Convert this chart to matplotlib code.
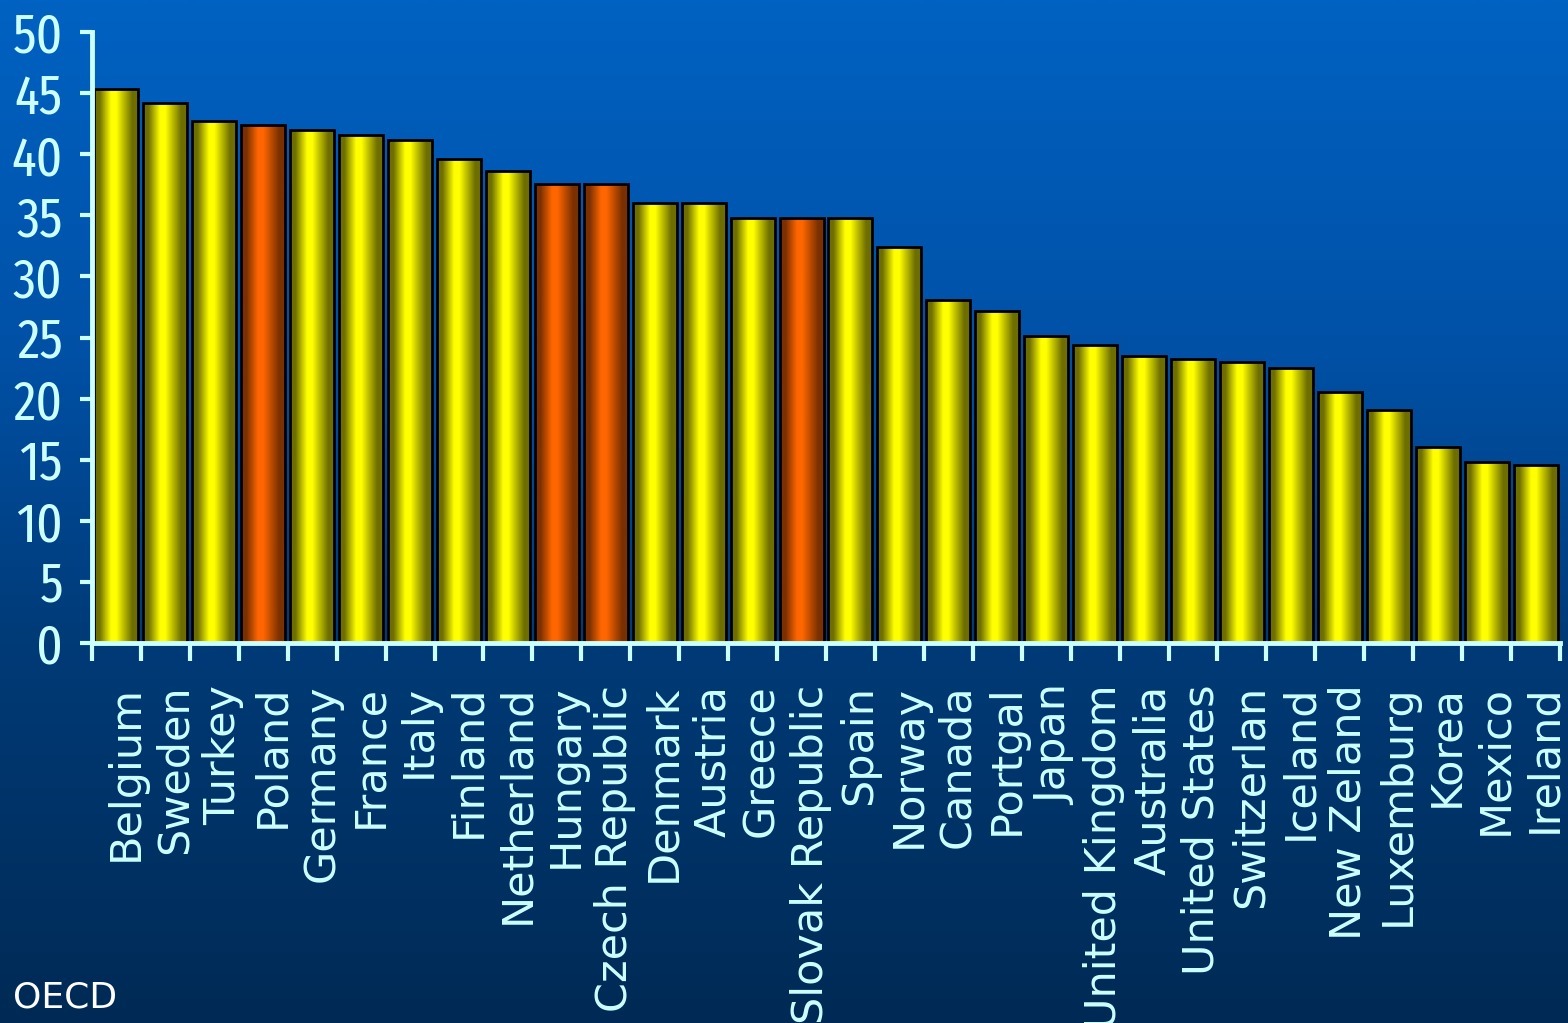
import numpy as np
import matplotlib
matplotlib.use("Agg")
import matplotlib.pyplot as plt
from matplotlib.colors import LinearSegmentedColormap
from matplotlib.transforms import ScaledTranslation

countries = ["Belgium", "Sweden", "Turkey", "Poland", "Germany", "France", "Italy",
             "Finland", "Netherland", "Hungary", "Czech Republic", "Denmark", "Austria",
             "Greece", "Slovak Republic", "Spain", "Norway", "Canada", "Portgal", "Japan",
             "United Kingdom", "Australia", "United States", "Switzerlan", "Iceland",
             "New Zeland", "Luxemburg", "Korea", "Mexico", "Ireland"]
values = [45.3, 44.2, 42.7, 42.4, 42.0, 41.6, 41.2, 39.6, 38.6, 37.6, 37.6, 36.0, 36.0,
          34.8, 34.8, 34.8, 32.4, 28.1, 27.2, 25.1, 24.4, 23.5, 23.2, 23.0, 22.5,
          20.5, 19.1, 16.0, 14.8, 14.6]
highlight = ["Poland", "Hungary", "Czech Republic", "Slovak Republic"]
yticks = [0, 5, 10, 15, 20, 25, 30, 35, 40, 45, 50]

W, H = 1568, 1023
fig = plt.figure(figsize=(W / 100, H / 100), dpi=100)

# background gradient
bg = fig.add_axes([0, 0, 1, 1], zorder=-10)
bg_cmap = LinearSegmentedColormap.from_list(
    "bg", [(0.0, "#0062c2"), (0.35, "#0050a5"), (0.62, "#003b78"), (1.0, "#002a55")])
grad = np.linspace(0, 1, 512).reshape(-1, 1)
bg.imshow(grad, cmap=bg_cmap, aspect="auto", extent=[0, 1, 0, 1], origin="upper")
bg.set_axis_off()

ax = fig.add_axes([92 / W, (H - 643) / H, (1560 - 92) / W, (643 - 32) / H])
ax.set_facecolor("none")

x = np.arange(len(countries))
bars = ax.bar(x, values, width=0.9, facecolor="none", edgecolor="black",
              linewidth=2.0, zorder=3)


def bar_cmap(base, dark):
    return LinearSegmentedColormap.from_list(
        "b", [(0.0, dark), (0.12, dark), (0.38, base), (0.5, base), (0.85, dark), (1.0, dark)])


ycm = bar_cmap("#ffff00", "#6e6e00")
ocm = bar_cmap("#ff6600", "#7a3000")
hgrad = np.linspace(0, 1, 256).reshape(1, -1)
for name, b in zip(countries, bars):
    cm = ocm if name in highlight else ycm
    bx, bw, bh = b.get_x(), b.get_width(), b.get_height()
    im = ax.imshow(hgrad, cmap=cm, aspect="auto", extent=[bx, bx + bw, 0, bh],
                   origin="lower", zorder=2)
    im.set_clip_path(b)

ax.set_xlim(-0.5, len(countries) - 0.5)
ax.set_ylim(0, 50)
ax.set_aspect("auto")

axis_col = "#ccffff"
for s in ["top", "right"]:
    ax.spines[s].set_visible(False)
for s in ["left", "bottom"]:
    ax.spines[s].set_color(axis_col)
    ax.spines[s].set_linewidth(3.5)
    ax.spines[s].set_zorder(5)

ax.set_yticks(yticks)
ax.set_yticklabels([str(v) for v in yticks],
                   family=["Fira Sans Extra Condensed", "DejaVu Sans"],
                   fontweight="normal", fontsize=40, color=axis_col)
ax.tick_params(axis="y", length=9, width=3, color=axis_col, pad=12)

ax.set_xticks(x)
ax.set_xticklabels(countries, rotation=90, fontsize=31, color=axis_col,
                   family="DejaVu Sans", va="top", ha="center")
ax.tick_params(axis="x", which="major", length=0, pad=30)
shift = ScaledTranslation(9 / 100, 0, fig.dpi_scale_trans)
for lab in ax.get_xticklabels():
    lab.set_transform(lab.get_transform() + shift)
ax.set_xticks(np.arange(len(countries) + 1) - 0.5, minor=True)
ax.tick_params(axis="x", which="minor", length=13, width=3, color=axis_col)

fig.text(13 / W, 1 - 997 / H, "OECD", color="white", fontsize=26,
         family="DejaVu Sans", va="center", ha="left")

fig.savefig("out.png", dpi=100)
